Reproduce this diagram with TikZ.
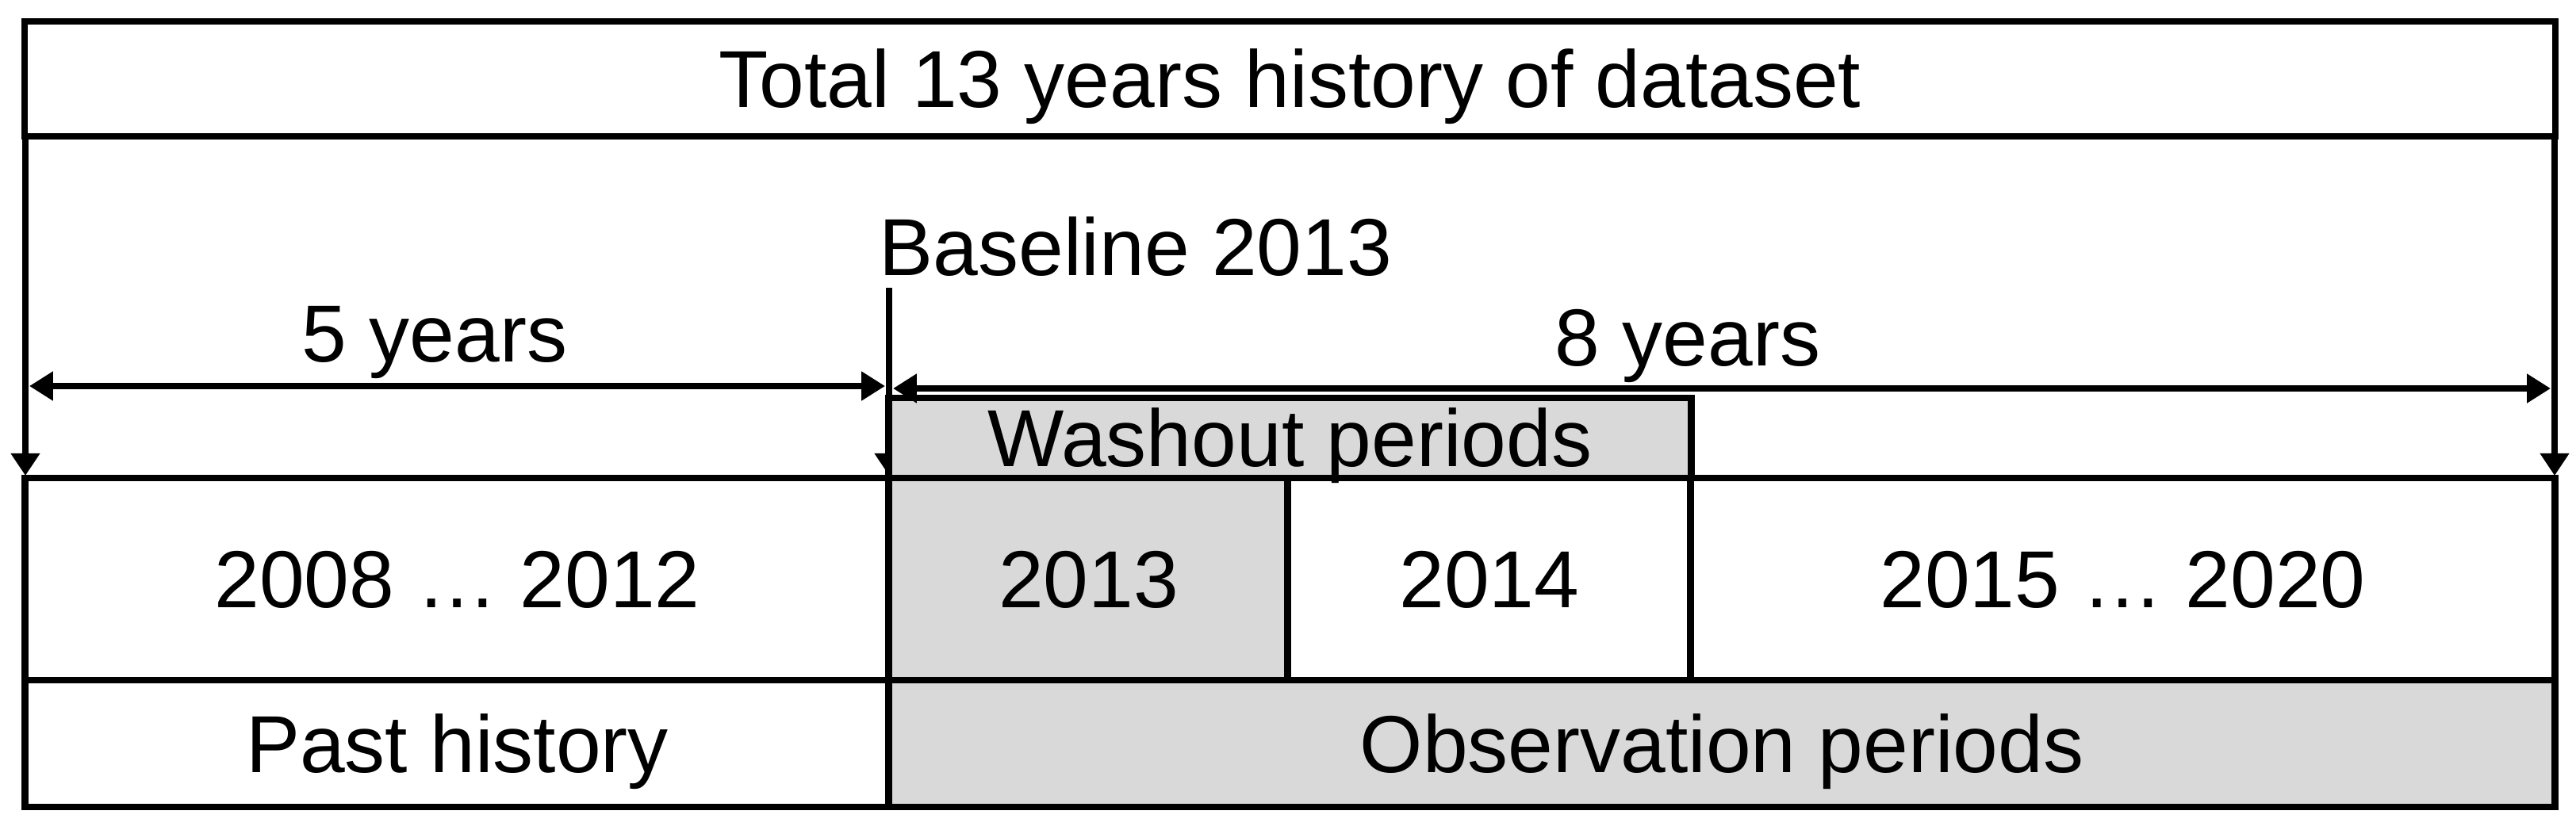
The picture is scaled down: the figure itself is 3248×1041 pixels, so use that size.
\documentclass[tikz,border=0pt]{standalone}
\usepackage{fontspec}
\setmainfont{Liberation Sans}
\usetikzlibrary{arrows.meta}
\definecolor{cellgray}{HTML}{D9D9D9}
\begin{document}
\begin{tikzpicture}[x=0.01cm,y=-0.01cm,
  txt/.style={font=\fontsize{29}{34}\selectfont, text height=20.5pt, text depth=0pt},
  cell/.style={txt, draw=black, line width=2.5pt, fill=white, inner sep=0pt, outer sep=0pt, anchor=center},
  shaded/.style={fill=cellgray},
  lbl/.style={txt, inner sep=0pt},
  dimarrow/.style={line width=2.3pt, {Triangle[length=8.5pt,width=10pt]}-{Triangle[length=8.5pt,width=10pt]}},
  downarrow/.style={line width=2.5pt, -{Triangle[length=8pt,width=10pt]}}
]
\useasboundingbox (0,0) rectangle (3248,1041);

% title row
\node[cell, minimum width=31.89cm, minimum height=1.45cm] (title) at (1626.5,99.5) {Total 13 years history of dataset};

% vertical arrows (side edges and baseline)
\coordinate (Ltop) at (32,172);
\coordinate (Lbot) at (32,600);
\coordinate (Rtop) at (3221,172);
\coordinate (Rbot) at (3221,600);
\coordinate (Btop) at (1121,363);
\coordinate (Bbot) at (1121,600);
\draw[downarrow] (Ltop) -- (Lbot);
\draw[downarrow] (Rtop) -- (Rbot);
\draw[downarrow] (Btop) -- (Bbot);

% year row
\node[cell, minimum width=10.89cm, minimum height=2.55cm] (y0812) at (576.5,730.5) {2008 … 2012};
\node[cell, shaded, minimum width=5.03cm, minimum height=2.55cm] (y13) at (1372.5,730.5) {2013};
\node[cell, minimum width=5.08cm, minimum height=2.55cm] (y14) at (1878,730.5) {2014};
\node[cell, minimum width=10.89cm, minimum height=2.55cm] (y1520) at (2676.5,730.5) {2015 … 2020};

% period row
\node[cell, minimum width=10.89cm, minimum height=1.60cm] (past) at (576.5,938) {Past history};
\node[cell, shaded, minimum width=21cm, minimum height=1.60cm] (obs) at (2171,938) {Observation periods};

% washout box
\node[cell, shaded, minimum width=10.11cm, minimum height=1.01cm] (wash) at (1626.5,552.5) {Washout periods};

% dimension arrows
\coordinate (A5l) at (37,487);
\coordinate (A5r) at (1116,487);
\coordinate (A8l) at (1126,490);
\coordinate (A8r) at (3216,490);
\draw[dimarrow] (A5l) -- (A5r);
\draw[dimarrow] (A8l) -- (A8r);

% labels
\node[lbl, anchor=west] (base) at (1108,311) {Baseline 2013};
\node[lbl] (five) at (548,420) {5 years};
\node[lbl] (eight) at (2128,425) {8 years};
\end{tikzpicture}
\end{document}
